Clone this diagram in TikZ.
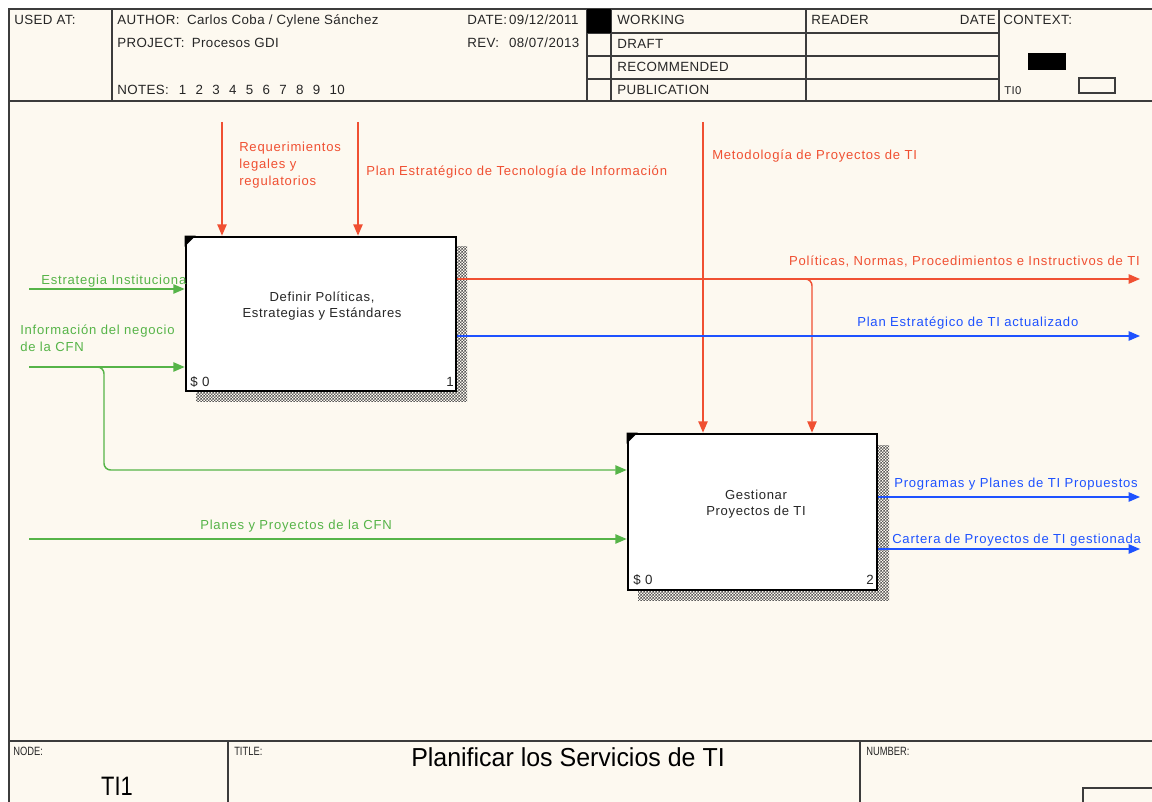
\documentclass[tikz,border=0pt]{standalone}
\usepackage{fontspec}
\setmainfont{Liberation Sans}
\newfontfamily\hdrfont[LetterSpace=3]{Liberation Sans}
\newfontfamily\lblfont[LetterSpace=6]{Liberation Sans}
\newfontfamily\actfont[LetterSpace=5]{Liberation Sans}
\usetikzlibrary{arrows.meta,patterns,fit}

\definecolor{paper}{RGB}{253,249,240}
\definecolor{ctlred}{RGB}{240,80,50}
\definecolor{outblue}{RGB}{30,82,255}
\definecolor{ingreen}{RGB}{86,180,72}
\definecolor{rulegray}{RGB}{60,60,60}

% fine checkerboard for the activity shadows
\pgfdeclarepatternformonly{finecheck}{\pgfpointorigin}{\pgfqpoint{2.2pt}{2.2pt}}{\pgfqpoint{2.2pt}{2.2pt}}{%
  \pgfpathrectangle{\pgfpointorigin}{\pgfqpoint{1.1pt}{1.1pt}}%
  \pgfpathrectangle{\pgfqpoint{1.1pt}{1.1pt}}{\pgfqpoint{1.1pt}{1.1pt}}%
  \pgfusepath{fill}}

\begin{document}
\begin{tikzpicture}[x=0.75pt,y=-0.75pt,
  frameline/.style={draw=rulegray,line width=1.2pt},
  hdr/.style={anchor=base west,inner sep=0pt,text=black!85,font=\hdrfont\fontsize{10}{12}\selectfont},
  small/.style={anchor=base west,inner sep=0pt,text=black!85,font=\fontsize{9}{10}\selectfont},
  lbl/.style={inner sep=0pt,font=\lblfont\fontsize{9.8}{12.75}\selectfont},
  acttext/.style={inner sep=0pt,align=center,text=black!85,font=\actfont\fontsize{9.8}{12.4}\selectfont},
  actbox/.style={draw=black,line width=2pt,fill=white,inner sep=0pt},
  shadow/.style={pattern=finecheck,pattern color=black!65},
  tip/.style={-{Triangle[length=8.5pt,width=7pt]}},
  ctl/.style={draw=ctlred,line width=1.1pt},
  outp/.style={draw=outblue,line width=1.1pt},
  inp/.style={draw=ingreen,line width=1.1pt}]

\useasboundingbox (0,0) rectangle (1152,802);
\clip (0,0) rectangle (1152,802);
\fill[white] (0,0) rectangle (1152,802);
\fill[paper] (9,9) rectangle (1170,820);

% ---- sheet frame and header grid ----
\draw[frameline] (9,820) -- (9,9) -- (1170,9);
\draw[frameline] (9,101) -- (1170,101);
\draw[frameline] (112,9) -- (112,101);
\draw[frameline] (587,9) -- (587,101);
\draw[frameline] (611,9) -- (611,101);
\draw[frameline] (806,9) -- (806,101);
\draw[frameline] (999,9) -- (999,101);
\foreach \yy in {33,56,79} \draw[frameline] (587,\yy) -- (999,\yy);
\fill[black] (587,9) rectangle (611,33);
\fill[black] (1028,53) rectangle (1066,70);
\draw[frameline] (1079,78) rectangle (1115,93);

% ---- footer grid ----
\draw[frameline] (9,741) -- (1170,741);
\draw[frameline] (228,741) -- (228,820);
\draw[frameline] (860,741) -- (860,820);
\draw[frameline] (1083,820) -- (1083,788) -- (1170,788);

% ---- header texts ----
\node[hdr] (usedat) at (14,25) {USED AT:};
\node[hdr] (author) at (117,25) {AUTHOR:\hspace{0.55em}Carlos Coba / Cylene Sánchez};
\node[hdr] (project) at (117,48) {PROJECT:\hspace{0.55em}Procesos GDI};
\node[hdr] (notes) at (117,95) {NOTES:\hspace{0.75em}1\hspace{0.7em}2\hspace{0.7em}3\hspace{0.7em}4\hspace{0.7em}5\hspace{0.7em}6\hspace{0.7em}7\hspace{0.7em}8\hspace{0.7em}9\hspace{0.7em}10};
\node[hdr] (date) at (467,25) {DATE:\hspace{0.15em}09/12/2011};
\node[hdr] (rev) at (467,48) {REV:\hspace{0.75em}08/07/2013};
\node[hdr] (working) at (617,25) {WORKING};
\node[hdr] (draft) at (617,49) {DRAFT};
\node[hdr] (recommended) at (617,72) {RECOMMENDED};
\node[hdr] (publication) at (617,95) {PUBLICATION};
\node[hdr] (reader) at (811,25) {READER};
\node[hdr,anchor=base east] (readerdate) at (996,25) {DATE};
\node[hdr] (context) at (1003,25) {CONTEXT:};
\node[hdr,font=\hdrfont\fontsize{8.5}{10}\selectfont] (ctxnode) at (1004,95) {TI0};

% ---- footer texts ----
\node[small] (nodelbl) at (13,755) {\scalebox{0.78}[1]{NODE:}};
\node[small] (titlelbl) at (234,755) {\scalebox{0.78}[1]{TITLE:}};
\node[small] (numberlbl) at (866,755) {\scalebox{0.78}[1]{NUMBER:}};
\node[anchor=base,inner sep=0pt,font=\fontsize{20}{24}\selectfont] (nodeid) at (117,795) {\scalebox{0.82}[1]{TI1}};
\node[anchor=base,inner sep=0pt,font=\fontsize{19.5}{23}\selectfont] (title) at (568,766) {\scalebox{0.96}[1]{Planificar los Servicios de TI}};

% ---- activity boxes with their shadows ----
\fill[shadow] (196,247) rectangle (467,401);
\fill[shadow] (638,445) rectangle (889,600);
\coordinate (b1nw) at (186,237); \coordinate (b1se) at (456,391);
\coordinate (b2nw) at (628,434); \coordinate (b2se) at (877,590);
\node[actbox,fit=(b1nw)(b1se)] (b1) {};
\node[actbox,fit=(b2nw)(b2se)] (b2) {};
\fill[black] (b1.north west) -- ++(11,0) -- ++(-11,11) -- cycle;
\fill[black] (b2.north west) -- ++(11,0) -- ++(-11,11) -- cycle;
\node[acttext] (b1text) at (322,306) {Definir Políticas,\\Estrategias y Estándares};
\node[acttext] (b2text) at (756,504) {Gestionar\\Proyectos de TI};
\node[hdr,font=\actfont\fontsize{10}{12}\selectfont] (b1cost) at (190,386) {\$ 0};
\node[hdr,anchor=base east,font=\actfont\fontsize{10}{12}\selectfont] (b1num) at (454,386) {1};
\node[hdr,font=\actfont\fontsize{10}{12}\selectfont] (b2cost) at (633,584) {\$ 0};
\node[hdr,anchor=base east,font=\actfont\fontsize{10}{12}\selectfont] (b2num) at (874,584) {2};

% ---- controls (top, red) ----
\coordinate (c1) at (222,122);
\coordinate (c2) at (358,122);
\coordinate (c3) at (703,122);
\draw[ctl,tip] (c1) -- (c1 |- b1.north);
\draw[ctl,tip] (c2) -- (c2 |- b1.north);
\draw[ctl,tip] (c3) -- (c3 |- b2.north);
\node[lbl,text=ctlred,anchor=north west,align=left] (l1) at (239,142) {Requerimientos\\legales y\\regulatorios};
\node[lbl,text=ctlred,anchor=base west] (l2) at (366,176) {Plan Estratégico de Tecnología de Información};
\node[lbl,text=ctlred,anchor=base west] (l3) at (712,160) {Metodología de Proyectos de TI};

% ---- outputs ----
\coordinate (o1) at (1140,279);
\coordinate (o2) at (1140,336);
\coordinate (o3) at (1140,497);
\coordinate (o4) at (1140,549);
\coordinate (c4a) at (802,279);
\coordinate (c4) at (812,279);
\draw[ctl,tip] (b1.east |- o1) -- (o1);
\draw[ctl,tip,rounded corners=5pt] (c4a) -| (c4 |- b2.north);
\draw[outp,tip] (b1.east |- o2) -- (o2);
\draw[outp,tip] (b2.east |- o3) -- (o3);
\draw[outp,tip] (b2.east |- o4) -- (o4);
\node[lbl,text=ctlred,anchor=base east] (l4) at (1140,265) {Políticas, Normas, Procedimientos e Instructivos de TI};
\node[lbl,text=outblue,anchor=base west] (l5) at (857,326) {Plan Estratégico de TI actualizado};
\node[lbl,text=outblue,anchor=base west] (l6) at (894,487) {Programas y Planes de TI Propuestos};
\node[lbl,text=outblue,anchor=base west] (l7) at (892,543) {Cartera de Proyectos de TI gestionada};

% ---- inputs (left, green) ----
\coordinate (i1) at (29,289);
\coordinate (i2) at (29,367);
\coordinate (i3) at (29,539);
\coordinate (i2a) at (96,367);
\coordinate (i2b) at (104,470);
\draw[inp,tip] (i1) -- (i1 -| b1.west);
\draw[inp,tip] (i2) -- (i2 -| b1.west);
\draw[inp,tip,rounded corners=5pt] (i2a) -| (i2b) -- (i2b -| b2.west);
\draw[inp,tip] (i3) -- (i3 -| b2.west);
\node[lbl,text=ingreen,anchor=base west] (l8) at (41,284) {Estrategia Instituciona};
\node[lbl,text=ingreen,anchor=north west,align=left] (l9) at (20,325) {Información del negocio\\de la CFN};
\node[lbl,text=ingreen,anchor=base west] (l10) at (200,529) {Planes y Proyectos de la CFN};

\end{tikzpicture}
\end{document}
